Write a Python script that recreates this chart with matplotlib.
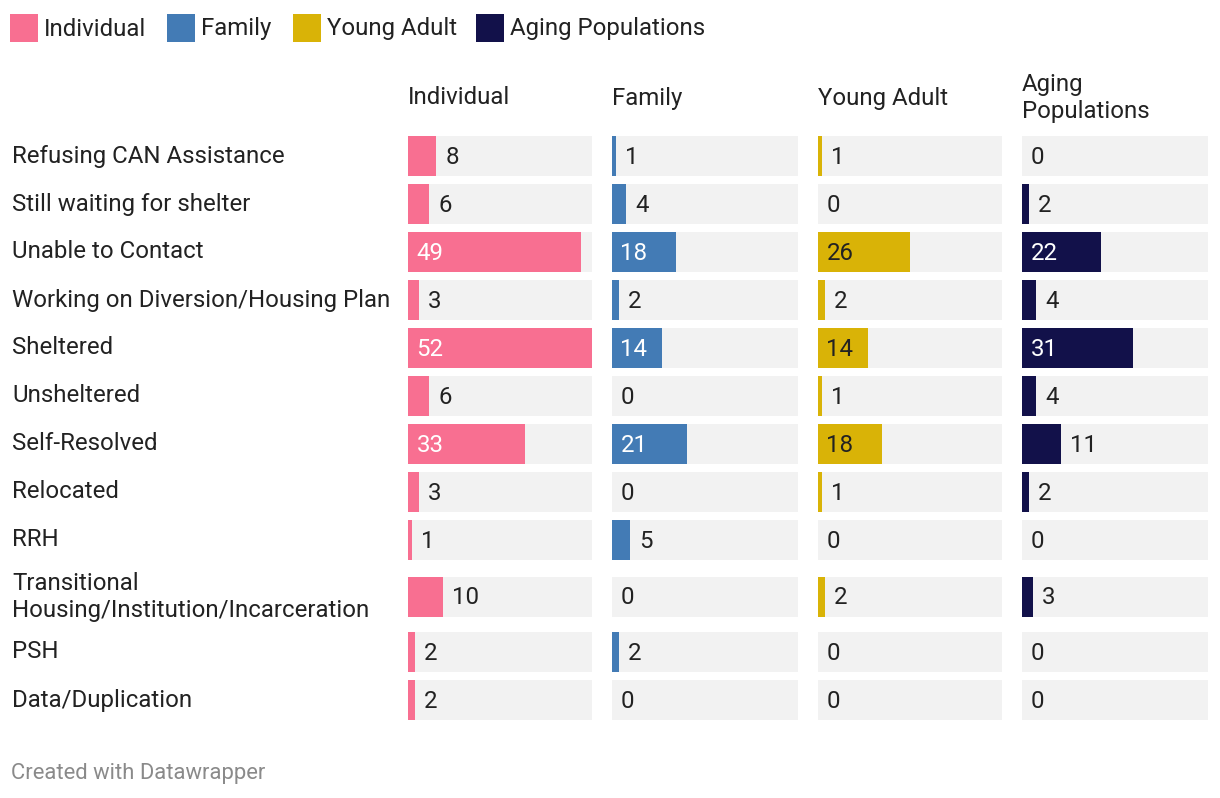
import matplotlib
matplotlib.use("Agg")
import matplotlib.pyplot as plt
from matplotlib.patches import Rectangle

plt.rcParams['font.family'] = ['Roboto', 'DejaVu Sans']

# data
categories = ["Refusing CAN Assistance", "Still waiting for shelter", "Unable to Contact",
              "Working on Diversion/Housing Plan", "Sheltered", "Unsheltered",
              "Self-Resolved", "Relocated", "RRH",
              "Transitional\nHousing/Institution/Incarceration", "PSH", "Data/Duplication"]
series_names = ["Individual", "Family", "Young Adult", "Aging Populations"]
headers = ["Individual", "Family", "Young Adult", "Aging\nPopulations"]
individual = [8, 6, 49, 3, 52, 6, 33, 3, 1, 10, 2, 2]
family = [1, 4, 18, 2, 14, 0, 21, 0, 5, 0, 2, 0]
young_adult = [1, 0, 26, 2, 14, 1, 18, 1, 0, 2, 0, 0]
aging = [0, 2, 22, 4, 31, 4, 11, 2, 0, 3, 0, 0]
all_series = [individual, family, young_adult, aging]

colors = ["#f86f91", "#437bb5", "#d9b307", "#12114a"]
inside_txt = ["white", "white", "#222222", "white"]
bg_band = "#f2f2f2"
txt = "#222222"
xmax = 52

W, H = 1220, 798
fig = plt.figure(figsize=(W / 100, H / 100), dpi=100)

# base axes in pixel coords for text
base = fig.add_axes([0, 0, 1, 1])
base.set_xlim(0, W)
base.set_ylim(H, 0)
base.axis("off")

# row centres (extra space around the two-line row)
row_y = []
for i in range(len(categories)):
    extra = 0 if i < 9 else (9 if i == 9 else 16)
    row_y.append(156 + 48 * i + extra)

col_x = [408, 612, 818, 1022]
col_w = [184, 186, 184, 186]
fs = 17.3

# legend
leg_x = [10, 167, 293, 476]
for name, c, lx in zip(series_names, colors, leg_x):
    base.add_patch(Rectangle((lx, 14), 28, 28, color=c, lw=0))
    base.text(lx + 34, 29, name, fontsize=fs, color=txt, va="center", ha="left")

# row labels
for cat, y in zip(categories, row_y):
    base.text(12, y, cat, fontsize=fs, color=txt, va="center", ha="left", linespacing=1.2)

# columns
for j in range(4):
    base.text(col_x[j], 98, headers[j], fontsize=fs, color=txt, va="center", ha="left",
              linespacing=1.2)
    ax = fig.add_axes([col_x[j] / W, 0, col_w[j] / W, 1])
    ax.set_xlim(0, xmax)
    ax.set_ylim(H, 0)
    ax.axis("off")
    vals = all_series[j]
    ax.barh(row_y, [xmax] * len(vals), height=40, left=0, color=bg_band, lw=0)
    ax.barh(row_y, vals, height=40, left=0, color=colors[j], lw=0)
    for v, y in zip(vals, row_y):
        if v >= 12:
            ax.annotate(str(v), (0, y), xytext=(8.5, -1), textcoords="offset pixels",
                        fontsize=fs, color=inside_txt[j], va="center", ha="left")
        else:
            ax.annotate(str(v), (v, y), xytext=(9, -1), textcoords="offset pixels",
                        fontsize=fs, color=txt, va="center", ha="left")

base.text(11, 773, "Created with Datawrapper", fontsize=15.8, color="#8a8a8a",
          va="center", ha="left")

fig.savefig("out.png", dpi=100)
